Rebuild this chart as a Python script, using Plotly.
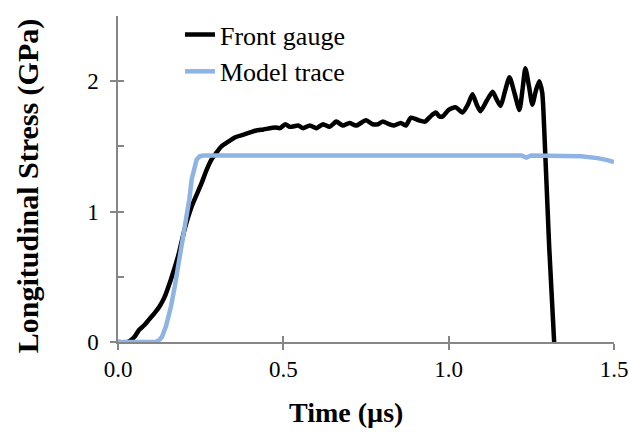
import plotly.graph_objects as go

# Front gauge (black) trace: time (µs), stress (GPa)
gauge_t = [0.00, 0.03, 0.05, 0.063, 0.08, 0.093, 0.11, 0.125, 0.14, 0.16, 0.175, 0.184, 0.199, 0.21,
           0.223, 0.238, 0.253, 0.268, 0.283, 0.30, 0.313, 0.33, 0.355, 0.38, 0.415, 0.44, 0.476, 0.49,
           0.506, 0.52, 0.545, 0.56, 0.58, 0.60, 0.62, 0.64, 0.66, 0.68, 0.70, 0.72, 0.75, 0.77, 0.786,
           0.80, 0.82, 0.835, 0.855, 0.87, 0.886, 0.91, 0.928, 0.945, 0.961, 0.972, 0.982, 1.00, 1.021,
           1.042, 1.058, 1.072, 1.085, 1.096, 1.115, 1.133, 1.145, 1.157, 1.17, 1.184, 1.20, 1.214,
           1.224, 1.232, 1.243, 1.253, 1.264, 1.274, 1.283, 1.289, 1.304, 1.319]
gauge_s = [0.00, 0.00, 0.04, 0.09, 0.13, 0.17, 0.22, 0.27, 0.34, 0.48, 0.60, 0.68, 0.84, 0.94,
           1.04, 1.13, 1.22, 1.32, 1.40, 1.46, 1.50, 1.53, 1.57, 1.59, 1.62, 1.63, 1.645, 1.64,
           1.67, 1.65, 1.66, 1.64, 1.66, 1.64, 1.67, 1.65, 1.69, 1.66, 1.68, 1.66, 1.70, 1.67, 1.67,
           1.69, 1.67, 1.66, 1.68, 1.66, 1.72, 1.70, 1.69, 1.73, 1.76, 1.73, 1.73, 1.78, 1.80,
           1.76, 1.82, 1.90, 1.82, 1.77, 1.85, 1.92, 1.86, 1.81, 1.92, 2.03, 1.90, 1.78,
           1.95, 2.10, 1.96, 1.82, 1.93, 2.00, 1.91, 1.63, 0.73, 0.00]

# Model trace (light blue)
model_t = [0.00, 0.10, 0.114, 0.125, 0.133, 0.145, 0.16, 0.172, 0.184, 0.196, 0.208, 0.216, 0.223,
           0.23, 0.238, 0.248, 0.259, 0.40, 0.60, 0.80, 1.00, 1.22, 1.235, 1.25, 1.40, 1.42, 1.45,
           1.48, 1.50]
model_s = [0.00, 0.00, 0.00, 0.015, 0.04, 0.12, 0.27, 0.43, 0.61, 0.79, 0.96, 1.10, 1.25,
           1.34, 1.40, 1.425, 1.43, 1.43, 1.43, 1.43, 1.43, 1.43, 1.415, 1.43, 1.425, 1.42, 1.41,
           1.395, 1.38]

x_ticks = [0.0, 0.5, 1.0, 1.5]
x_labels = ["0.0", "0.5", "1.0", "1.5"]
y_major = [0, 1, 2]
y_major_labels = ["0", "1", "2"]
y_all = [0, 0.5, 1, 1.5, 2, 2.5]

FONT = "Liberation Serif, Times New Roman, serif"
AXIS_COLOR = "#868686"
X_RANGE = [0, 1.5]
Y_RANGE = [0, 2.5]

fig = go.Figure()
fig.add_trace(go.Scatter(x=gauge_t, y=gauge_s, mode="lines", name="Front gauge",
                         line=dict(color="black", width=4.5, shape="spline", smoothing=0.6)))
fig.add_trace(go.Scatter(x=model_t, y=model_s, mode="lines", name="Model trace",
                         line=dict(color="#8DB4E2", width=4.5)))
# empty helper trace so the inside-tick overlay axes are drawn
fig.add_trace(go.Scatter(x=[None], y=[None], xaxis="x2", yaxis="y2", showlegend=False,
                         hoverinfo="skip"))

fig.update_layout(
    width=630, height=433,
    margin=dict(l=118, r=16, t=16, b=91, autoexpand=False),
    paper_bgcolor="white", plot_bgcolor="white",
    font=dict(family=FONT, size=22, color="black"),
    showlegend=True,
    legend=dict(x=0.125, y=1.015, xanchor="left", yanchor="top", bgcolor="rgba(0,0,0,0)",
                font=dict(family=FONT, size=26), tracegroupgap=0),
    xaxis=dict(range=X_RANGE, tickvals=x_ticks, ticktext=x_labels, showgrid=False, zeroline=False,
               showline=True, linecolor=AXIS_COLOR, linewidth=1.5, ticks="outside", ticklen=6,
               tickcolor=AXIS_COLOR, tickwidth=1.5, tickfont=dict(size=23),
               ticklabeloverflow="allow", automargin=False),
    yaxis=dict(range=Y_RANGE, tickvals=y_major, ticktext=y_major_labels, showgrid=False, zeroline=False,
               showline=True, linecolor=AXIS_COLOR, linewidth=1.5, ticks="outside", ticklen=6,
               tickcolor=AXIS_COLOR, tickwidth=1.5, tickfont=dict(size=23), ticklabelstandoff=7,
               automargin=False),
    xaxis2=dict(range=X_RANGE, overlaying="x", anchor="y", side="bottom", tickvals=x_ticks,
                showticklabels=False, showgrid=False, zeroline=False, showline=False,
                ticks="inside", ticklen=6, tickcolor=AXIS_COLOR, tickwidth=1.5, automargin=False),
    yaxis2=dict(range=Y_RANGE, overlaying="y", anchor="x", side="left", tickvals=y_all,
                showticklabels=False, showgrid=False, zeroline=False, showline=False,
                ticks="inside", ticklen=6, tickcolor=AXIS_COLOR, tickwidth=1.5, automargin=False),
    annotations=[
        dict(text="<b>Time (µs)</b>", xref="paper", yref="paper", x=0.46, y=-0.215,
             xanchor="center", yanchor="middle", showarrow=False, font=dict(size=28, family=FONT)),
        dict(text="<b>Longitudinal Stress (GPa)</b>", xref="paper", yref="paper", x=-0.182, y=0.48,
             xanchor="center", yanchor="middle", textangle=-90, showarrow=False,
             font=dict(size=30, family=FONT)),
    ],
)

fig.write_html("out.html",
               config={"displayModeBar": False},
               post_script="document.body.style.margin='0';document.body.style.overflow='hidden';")
